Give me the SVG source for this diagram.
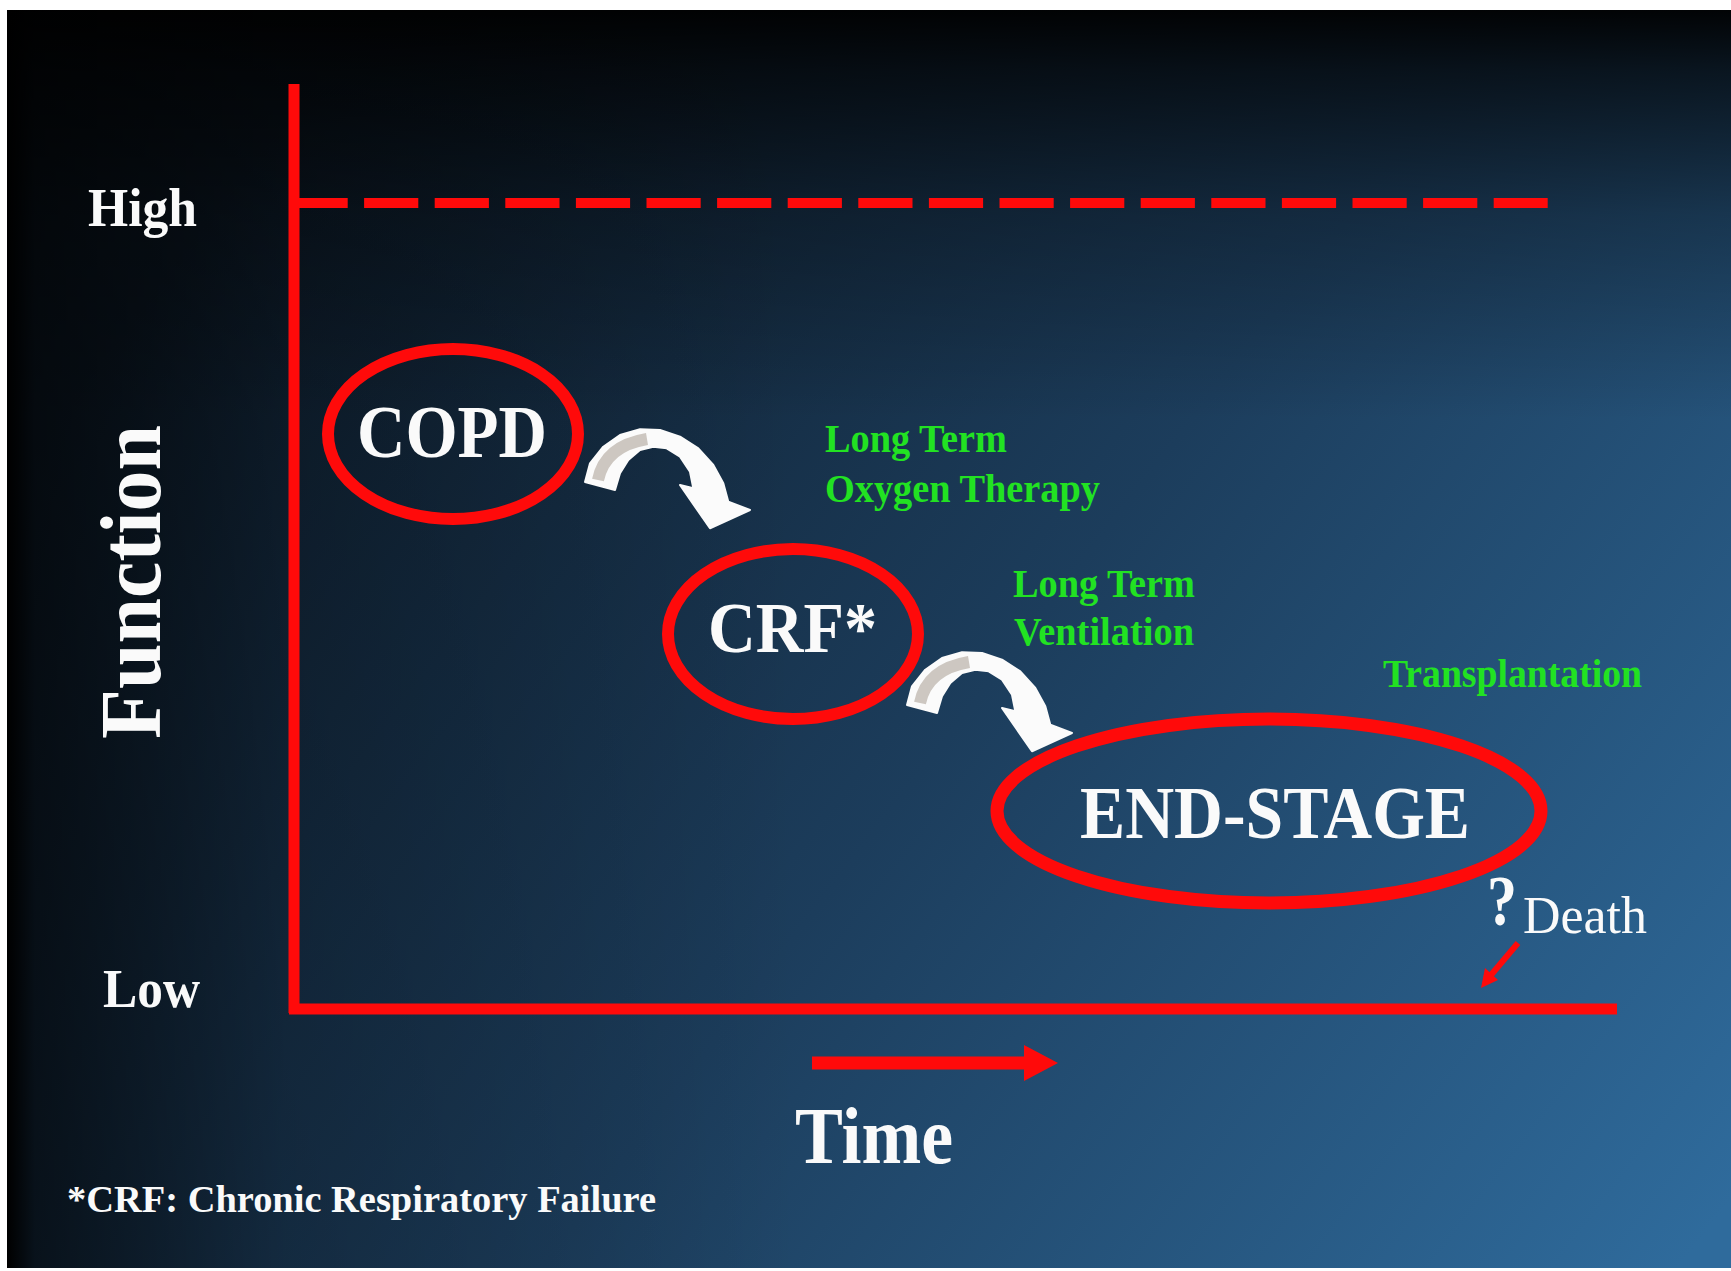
<svg xmlns="http://www.w3.org/2000/svg" width="1731" height="1271" viewBox="0 0 1731 1271">
<style>
.w{fill:#fafafa;font-family:"Liberation Serif","Times New Roman",serif;font-weight:bold}
.g{fill:#22e222;font-family:"Liberation Serif","Times New Roman",serif;font-weight:bold;font-size:40px}
.ring{fill:none;stroke:#ff0a0a}
.ax{stroke:#ff0a0a;fill:none}
</style>
<defs>
<linearGradient id="bg" gradientUnits="userSpaceOnUse" x1="300" y1="100" x2="1731" y2="1200">
<stop offset="0" stop-color="#0c1926"/>
<stop offset="0.5" stop-color="#1c3d5c"/>
<stop offset="1" stop-color="#2f6b9c"/>
</linearGradient>
<linearGradient id="topShade" gradientUnits="userSpaceOnUse" x1="0" y1="10" x2="0" y2="420">
<stop offset="0" stop-color="#000" stop-opacity="0.95"/>
<stop offset="0.15" stop-color="#000" stop-opacity="0.7"/>
<stop offset="0.5" stop-color="#000" stop-opacity="0.3"/>
<stop offset="1" stop-color="#000" stop-opacity="0"/>
</linearGradient>
<linearGradient id="leftShade" gradientUnits="userSpaceOnUse" x1="7" y1="0" x2="800" y2="0">
<stop offset="0" stop-color="#000" stop-opacity="1"/>
<stop offset="0.035" stop-color="#000" stop-opacity="0.6"/>
<stop offset="0.35" stop-color="#000" stop-opacity="0.2"/>
<stop offset="1" stop-color="#000" stop-opacity="0"/>
</linearGradient>
<g id="curve">
<path d="M0,0 L5,-18.7 L18.3,-35.3 L35,-47 L55,-52.7 L75,-52 L95,-45.3 L113.3,-33.7 L128.3,-17 L138.3,1.3 L143.3,19.7 L165,28 L125,46.3 L95,3 L108.3,6.3 L105,-10.3 L95,-25.3 L81.7,-33.7 L68.3,-35.3 L55,-32 L43.3,-22 L35,-8.7 L30,8 Z" fill="#fbfbfb" stroke="#fbfbfb" stroke-width="2" stroke-linejoin="round"/>
<path d="M13,-2 Q20,-36 62,-43" fill="none" stroke="#c4bdb6" stroke-width="12" stroke-opacity="0.85"/>
</g>
</defs>
<rect x="0" y="0" width="1731" height="1271" fill="#ffffff"/>
<g id="background">
<rect x="7" y="10" width="1724" height="1258" fill="url(#bg)"/>
<rect x="7" y="10" width="1724" height="1258" fill="url(#topShade)"/>
<rect x="7" y="10" width="1724" height="1258" fill="url(#leftShade)"/>
</g>
<g id="axes">
<line class="ax" x1="294" y1="84" x2="294" y2="1013" stroke-width="11"/>
<line class="ax" x1="289" y1="1009" x2="1617" y2="1009" stroke-width="11"/>
<line class="ax" x1="293.5" y1="203" x2="1547.7" y2="203" stroke-width="10" stroke-dasharray="54.2 16.4"/>
</g>
<g id="axis-labels">
<text class="w" x="88" y="226" font-size="54" textLength="109" lengthAdjust="spacingAndGlyphs">High</text>
<text class="w" x="103" y="1007" font-size="54" textLength="97" lengthAdjust="spacingAndGlyphs">Low</text>
<text class="w" transform="translate(160,739) rotate(-90)" x="0" y="0" font-size="86" textLength="314" lengthAdjust="spacingAndGlyphs">Function</text>
<text class="w" x="795" y="1163" font-size="80" textLength="158" lengthAdjust="spacingAndGlyphs">Time</text>
<text class="w" x="67" y="1212" font-size="38" textLength="589" lengthAdjust="spacingAndGlyphs">*CRF: Chronic Respiratory Failure</text>
</g>
<g id="copd">
<ellipse class="ring" cx="453" cy="434" rx="125" ry="85" stroke-width="12"/>
<text class="w" x="357" y="457" font-size="74" textLength="190" lengthAdjust="spacingAndGlyphs">COPD</text>
</g>
<g id="crf">
<ellipse class="ring" cx="793" cy="634" rx="125" ry="85" stroke-width="12"/>
<text class="w" x="708" y="652" font-size="72" textLength="169" lengthAdjust="spacingAndGlyphs">CRF*</text>
</g>
<g id="endstage">
<ellipse class="ring" cx="1269" cy="811" rx="272" ry="92" stroke-width="13"/>
<text class="w" x="1080" y="838" font-size="73" textLength="390" lengthAdjust="spacingAndGlyphs">END-STAGE</text>
</g>
<g id="ltot-label">
<text class="g" x="825" y="452" textLength="182" lengthAdjust="spacingAndGlyphs">Long Term</text>
<text class="g" x="825" y="502" textLength="275" lengthAdjust="spacingAndGlyphs">Oxygen Therapy</text>
</g>
<g id="ltv-label">
<text class="g" x="1013" y="597" textLength="182" lengthAdjust="spacingAndGlyphs">Long Term</text>
<text class="g" x="1014" y="645" textLength="180" lengthAdjust="spacingAndGlyphs">Ventilation</text>
</g>
<g id="transplant-label">
<text class="g" x="1383" y="687" font-size="38" textLength="259" lengthAdjust="spacingAndGlyphs">Transplantation</text>
</g>
<g id="death">
<text class="w" x="1487" y="925" font-size="72" textLength="30" lengthAdjust="spacingAndGlyphs">?</text>
<text x="1523" y="933" font-size="52" fill="#fafafa" font-family="'Liberation Serif','Times New Roman',serif" textLength="124" lengthAdjust="spacingAndGlyphs">Death</text>
</g>
<g id="connectors">
<use href="#curve" transform="translate(585,482)"/>
<use href="#curve" transform="translate(907,705)"/>
<line x1="812" y1="1063" x2="1030" y2="1063" stroke="#ff0a0a" stroke-width="13"/>
<polygon points="1024,1045 1058,1063 1024,1081" fill="#ff0a0a"/>
<line x1="1518" y1="943" x2="1491" y2="975" stroke="#ff0a0a" stroke-width="6"/>
<polygon points="1481,988 1498,980 1485,968" fill="#ff0a0a"/>
</g>
</svg>
